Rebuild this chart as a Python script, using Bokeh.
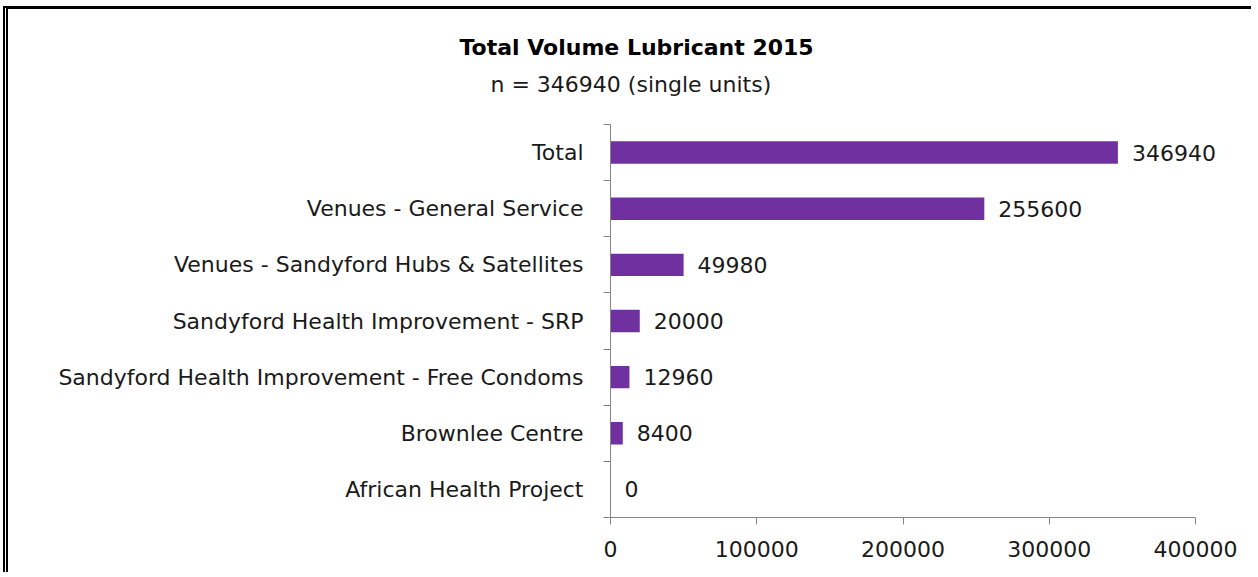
from bokeh.plotting import figure
from bokeh.models import (ColumnDataSource, Range1d, LinearAxis, FixedTicker, Title, LabelSet,
                          NumeralTickFormatter)
from bokeh.core.properties import value
from bokeh.embed import file_html
from bokeh.resources import INLINE

categories = ["Total", "Venues - General Service", "Venues - Sandyford Hubs & Satellites",
              "Sandyford Health Improvement - SRP", "Sandyford Health Improvement - Free Condoms",
              "Brownlee Centre", "African Health Project"]
values = [346940, 255600, 49980, 20000, 12960, 8400, 0]
x_ticks = [0, 100000, 200000, 300000, 400000]
x_max = 400000

FONT = "DejaVu Sans"
TXT = "#1a1a1a"
AX = "#868686"
BAR = "#7030A0"

n = len(categories)
ypos = [n - i - 0.5 for i in range(n)]
src = ColumnDataSource(dict(y=ypos, val=values, lab=[str(v) for v in values]))

# frame extends a little past the axes so the value labels / titles have room
p = figure(width=1248, height=566, output_backend="svg", toolbar_location=None,
           y_range=Range1d(0, n + 21 / (393 / n)), x_range=Range1d(0, x_max * 636 / 585),
           y_axis_location=None,
           min_border_left=602, min_border_right=10, min_border_top=94, min_border_bottom=58)

p.hbar(y="y", right="val", height=0.4, source=src, fill_color=BAR, line_color=None)
p.add_layout(LabelSet(x="val", y="y", text="lab", source=src, x_offset=14,
                      text_baseline="middle", text_font=value(FONT), text_font_size="22px",
                      text_color=TXT))

# boundary-tick axis (Excel style)
bax = LinearAxis(ticker=FixedTicker(ticks=list(range(n + 1))), bounds=(0, n),
                 major_label_overrides={i: "" for i in range(n + 1)},
                 axis_line_color=AX, major_tick_line_color=AX, major_tick_out=7, major_tick_in=0,
                 minor_tick_line_color=None, major_label_standoff=0)
p.add_layout(bax, "left")
cax = LinearAxis(ticker=FixedTicker(ticks=ypos),
                 major_label_overrides={y: c for y, c in zip(ypos, categories)},
                 axis_line_color=None, major_tick_line_color=None, minor_tick_line_color=None,
                 major_label_text_font=FONT, major_label_text_font_size="22px",
                 major_label_text_color=TXT, major_label_standoff=14)
p.add_layout(cax, "left")

p.xaxis.ticker = FixedTicker(ticks=x_ticks)
p.xaxis.bounds = (0, x_max)
p.xaxis.formatter = NumeralTickFormatter(format="0")
p.xaxis.axis_line_color = AX
p.xaxis.major_tick_line_color = AX
p.xaxis.major_tick_out = 7
p.xaxis.major_tick_in = 0
p.xaxis.minor_tick_line_color = None
p.xaxis.major_label_text_font = FONT
p.xaxis.major_label_text_font_size = "22px"
p.xaxis.major_label_text_color = TXT
p.xaxis.major_label_standoff = 16

p.xgrid.grid_line_color = None
p.ygrid.grid_line_color = None
p.outline_line_color = None

p.title.text = "Total Volume Lubricant 2015"
p.title.align = "left"
p.title.offset = -151
p.title.text_font = FONT
p.title.text_font_size = "22px"
p.title.text_font_style = "bold"
p.title.text_color = "#000000"
p.title.standoff = 6
p.add_layout(Title(text="n = 346940 (single units)", align="left", offset=-120,
                   text_font=FONT, text_font_size="22px", text_font_style="normal",
                   text_color=TXT, standoff=14), "above")

p.styles = {"border-top": "3px solid #000", "border-left": "5px double #000",
            "margin-top": "6px", "margin-left": "3px"}

open("out.html", "w").write(file_html(p, INLINE))
